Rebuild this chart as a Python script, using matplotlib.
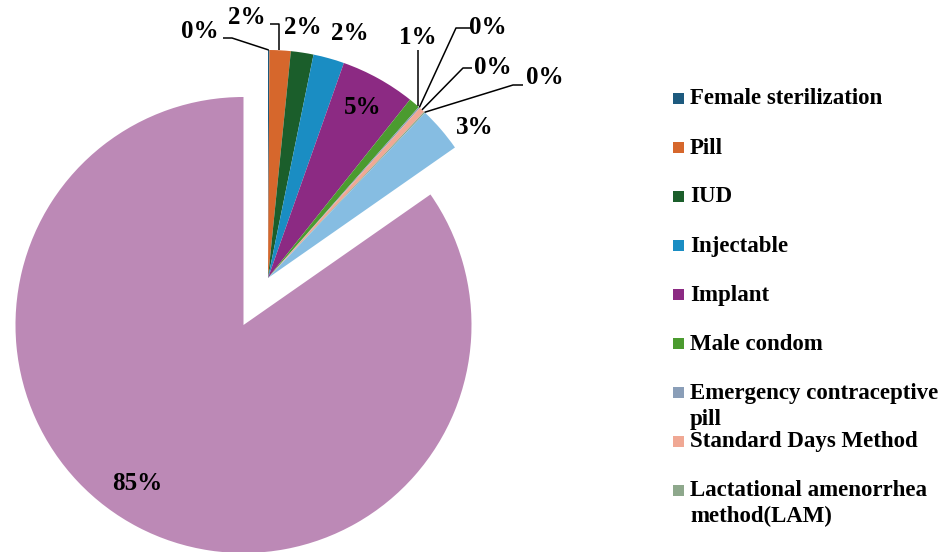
import numpy as np
import matplotlib
matplotlib.use("Agg")
import matplotlib.pyplot as plt
from matplotlib.patches import Rectangle

# ---- data ----
categories = ["Female sterilization", "Pill", "IUD", "Injectable", "Implant",
              "Male condom", "Emergency contraceptive\npill", "Standard Days Method",
              "Lactational amenorrhea\nmethod(LAM)", "Other", "Not using"]
values = [0.1, 1.5, 1.6, 2.2, 5.3, 0.8, 0.1, 0.4, 0.1, 3.2, 84.7]
colors = ["#1d5a7e", "#d6672c", "#1b5e2b", "#1a8dc3", "#8c2a83", "#4b9b2f",
          "#8a9eb8", "#f0a894", "#8ea88c", "#86bde2", "#bc89b6"]
n_legend_shown = 9  # the legend in the reference is truncated after 9 entries

W, H = 943, 552
fig = plt.figure(figsize=(W / 100, H / 100), dpi=100)
ax = fig.add_axes([0, 0, 1, 1])

def py(y):  # pixel-from-top -> data y
    return H - y

cx, cy, R = 268, py(278), 228
explode = [0] * 10 + [53]
wedges, _ = ax.pie(values, colors=colors, startangle=90, counterclock=False,
                   radius=R, center=(cx, cy), explode=explode,
                   wedgeprops=dict(linewidth=0))
ax.set_xlim(0, W)
ax.set_ylim(0, H)
ax.set_aspect("auto")
ax.axis("off")

font = dict(family=["Liberation Serif", "DejaVu Serif"], weight="bold")
total = sum(values)
pct = [f"{int(v / total * 100 + 0.5)}%" for v in values]

# label positions (pixel coords) and optional elbow for leader line
label_pos = [(200, 32), (247, 18), (303, 28), (350, 33), (363, 107),
             (418, 37), (488, 28), (493, 67), (545, 78), (475, 128), (137, 484)]
leaders = {0: [(223, 38), (232, 38)],
           1: [(270, 24), (279, 24)],
           5: [(418, 50)],
           6: [(472, 28), (456, 28)],
           7: [(472, 68), (463, 68)],
           8: [(523, 85), (513, 85)]}

for i, (w, (lx, ly)) in enumerate(zip(wedges, label_pos)):
    ax.text(lx, py(ly), pct[i], ha="center", va="center", fontsize=18, **font)
    if i in leaders:
        pts = [(x, py(y)) for x, y in leaders[i]]
        th = np.deg2rad((w.theta1 + w.theta2) / 2)
        ex = w.center[0] + w.r * np.cos(th)
        ey = w.center[1] + w.r * np.sin(th)
        if i == 1 or i == 5:
            ex = pts[-1][0]
            ey = w.center[1] + np.sqrt(max(w.r ** 2 - (ex - w.center[0]) ** 2, 0))
        pts.append((ex, ey))
        xs, ys = zip(*pts)
        ax.plot(xs, ys, color="black", lw=1.1, solid_capstyle="butt")

# manual legend (Excel-style, truncated)
for i, (name, c) in enumerate(zip(categories[:n_legend_shown], colors)):
    yc = 98 + 49 * i
    fig.patches.append(Rectangle((673 / W, 1 - (yc + 5.5) / H), 11 / W, 11 / H,
                                 transform=fig.transFigure, facecolor=c,
                                 edgecolor="none"))
    for j, line in enumerate(name.split("\n")):
        fig.text(690 / W, 1 - (yc + 6.5 + 26 * j) / H, line, ha="left",
                 va="baseline", fontsize=16.5, **font)

fig.savefig("out.png", dpi=100)
